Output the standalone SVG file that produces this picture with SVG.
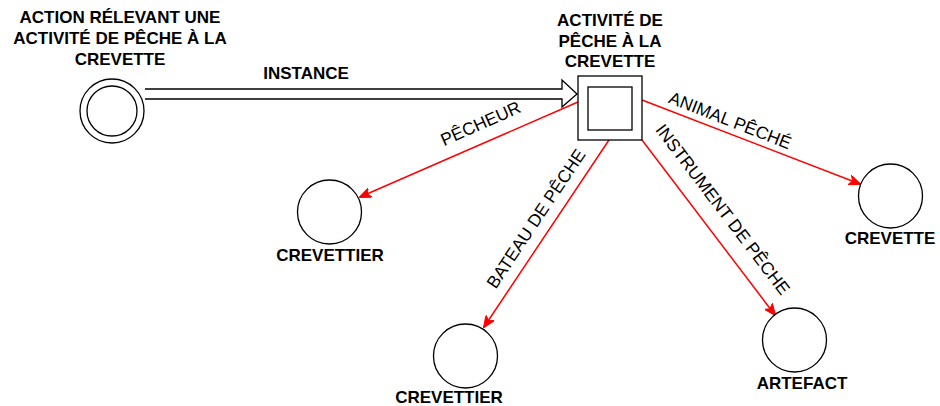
<svg xmlns="http://www.w3.org/2000/svg" width="940" height="406" viewBox="0 0 940 406">
<style>
.node{fill:#fff;stroke:#000;stroke-width:1.3}
.lbl{font-family:"Liberation Sans",Arial,sans-serif;font-size:17px;font-weight:bold;fill:#000;text-anchor:middle}
.el{font-family:"Liberation Sans",Arial,sans-serif;font-size:17.5px;fill:#000;text-anchor:middle}
.edge{stroke:#ff0000;stroke-width:1.5;fill:none}
</style>
<defs>
<marker id="ah" viewBox="0 0 12 10" refX="11" refY="5" markerWidth="12" markerHeight="10" markerUnits="userSpaceOnUse" orient="auto">
<path d="M0,0 L12,5 L0,10 L3,5 z" fill="#ff0000" stroke="#ff0000" stroke-width="1"/>
</marker>
</defs>
<rect width="940" height="406" fill="#fff"/>
<g id="connectors">
<path d="M145,89 H562 V80 L577,94 L562,107 V99 H145" fill="#fff" stroke="#000" stroke-width="1.3"/>
<text class="lbl" x="306" y="79">INSTANCE</text>
<line class="edge" x1="578" y1="102" x2="360" y2="197" marker-end="url(#ah)"/>
<text class="el" transform="translate(483,129) rotate(-23.9)">PÊCHEUR</text>
<line class="edge" x1="609" y1="140" x2="484" y2="327" marker-end="url(#ah)"/>
<text class="el" transform="translate(541,222) rotate(-56.2)">BATEAU DE PÊCHE</text>
<line class="edge" x1="642" y1="140" x2="775" y2="315" marker-end="url(#ah)"/>
<text class="el" transform="translate(718,213) rotate(52.7)">INSTRUMENT DE PÊCHE</text>
<line class="edge" x1="642" y1="100" x2="860" y2="184" marker-end="url(#ah)"/>
<text class="el" transform="translate(728,126) rotate(21.2)">ANIMAL PÊCHÉ</text>
</g>
<g id="n-action">
<circle class="node" cx="112" cy="111" r="32"/>
<circle class="node" cx="112" cy="111" r="25"/>
<text class="lbl" x="120" y="23">ACTION RÉLEVANT UNE</text>
<text class="lbl" x="120" y="44">ACTIVITÉ DE PÊCHE À LA</text>
<text class="lbl" x="120" y="65">CREVETTE</text>
</g>
<g id="n-activite">
<rect class="node" x="578" y="76" width="64" height="64"/>
<rect class="node" x="588" y="87" width="44" height="43"/>
<text class="lbl" x="610" y="26">ACTIVITÉ DE</text>
<text class="lbl" x="610" y="47">PÊCHE À LA</text>
<text class="lbl" x="610" y="67">CREVETTE</text>
</g>
<g id="n-crevettier1">
<circle class="node" cx="329.5" cy="212" r="32"/>
<text class="lbl" x="330" y="261">CREVETTIER</text>
</g>
<g id="n-crevettier2">
<circle class="node" cx="465.5" cy="356" r="32"/>
<text class="lbl" x="449" y="403">CREVETTIER</text>
</g>
<g id="n-artefact">
<circle class="node" cx="794.5" cy="340" r="32"/>
<text class="lbl" x="802" y="389">ARTEFACT</text>
</g>
<g id="n-crevette">
<circle class="node" cx="890.5" cy="196" r="32"/>
<text class="lbl" x="890" y="244">CREVETTE</text>
</g>
</svg>
